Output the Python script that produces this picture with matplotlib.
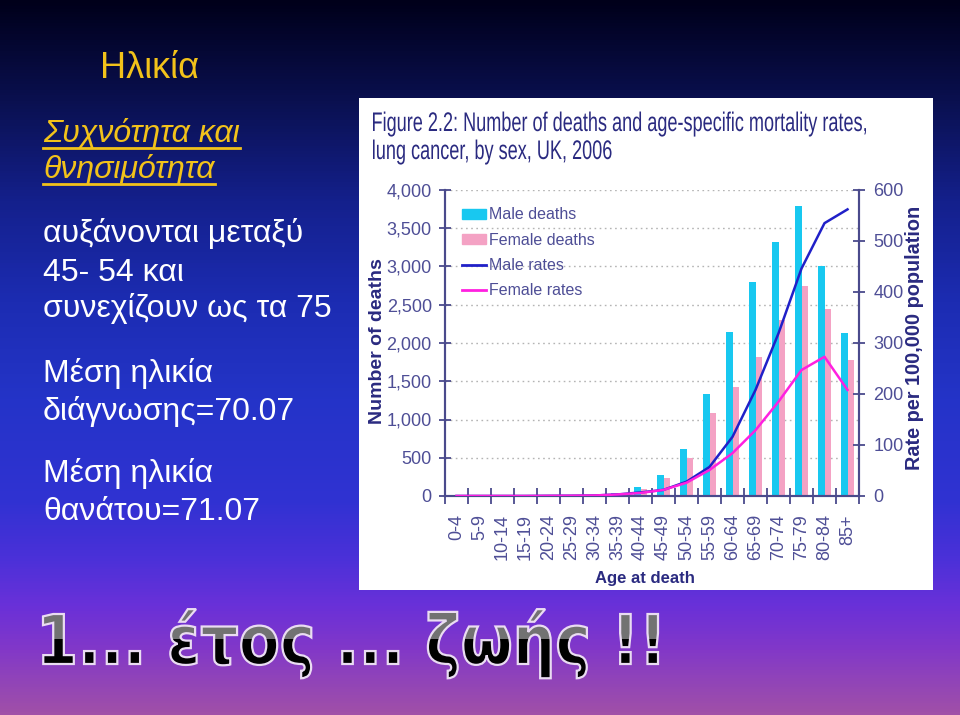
import numpy as np
import matplotlib
matplotlib.use("Agg")
import matplotlib.pyplot as plt
from matplotlib.colors import LinearSegmentedColormap
from matplotlib.patches import Rectangle, PathPatch, Patch
from matplotlib.lines import Line2D
from matplotlib.textpath import TextPath
from matplotlib.font_manager import FontProperties
from matplotlib.transforms import Affine2D
from matplotlib.ticker import FuncFormatter, FixedLocator

# données
ages = ['0-4', '5-9', '10-14', '15-19', '20-24', '25-29', '30-34', '35-39', '40-44',
        '45-49', '50-54', '55-59', '60-64', '65-69', '70-74', '75-79', '80-84', '85+']
male_deaths = [0, 0, 0, 1, 2, 4, 10, 38, 122, 275, 619, 1329, 2148, 2793, 3325, 3791, 3010, 2131]
female_deaths = [0, 0, 0, 1, 2, 4, 8, 30, 96, 240, 501, 1080, 1420, 1821, 2300, 2745, 2440, 1778]
male_rates = [0, 0, 0, 0, 0.3, 0.5, 1, 3, 7, 12, 28, 57, 116, 208, 319, 446, 535, 562]
female_rates = [0, 0, 0, 0, 0.3, 0.5, 1, 3, 6, 12, 26, 51, 84, 129, 185, 247, 273, 208]

left_ticks = [0, 500, 1000, 1500, 2000, 2500, 3000, 3500, 4000]
right_ticks = [0, 100, 200, 300, 400, 500, 600]

title_lines = ["Figure 2.2: Number of deaths and age-specific mortality rates,",
               "lung cancer, by sex, UK, 2006"]
slide_title = "Ηλικία"
sub_lines = ["Συχνότητα και", "θνησιμότητα"]
body_lines = [("αυξάνονται μεταξύ", 242), ("45- 54 και", 281), ("συνεχίζουν ως τα 75", 317),
              ("Μέση ηλικία", 382), ("διάγνωσης=70.07", 420),
              ("Μέση ηλικία", 482), ("θανάτου=71.07", 520)]
big_text = "1... έτος ... ζωής !!"

NAVY = '#2a2a80'
AXC = '#4a4a8c'
CYAN = '#18c8f0'
PINK = '#f4a2c4'
BLUE = '#2020c8'
MAGENTA = '#ff20e0'

arial = ['Liberation Sans', 'DejaVu Sans']


def squeezed_path(txt, family, weight, cap_px, x0, baseline, sx=None, width=None):
    # texte dessiné comme chemin, resserré horizontalement (police étroite absente)
    prop = FontProperties(family=family, weight=weight)
    tp = TextPath((0, 0), txt, size=100, prop=prop)
    cap = TextPath((0, 0), "H", size=100, prop=prop).get_extents().height
    sy = cap_px / cap
    ext = tp.get_extents()
    if sx is None:
        sx = width / ext.width
    tr = Affine2D().scale(sx, -sy).translate(x0 - ext.x0 * sx, baseline)
    return tr.transform_path(tp), sx


fig = plt.figure(figsize=(9.6, 7.15), dpi=100)

# fond en dégradé
bg = fig.add_axes([0, 0, 1, 1])
bg.set_xlim(0, 960)
bg.set_ylim(715, 0)
bg.axis('off')
cmap = LinearSegmentedColormap.from_list('slide', [
    (0.0, '#00001a'), (0.14, '#0a1050'), (0.28, '#14208c'), (0.42, '#1c2cb2'),
    (0.56, '#2434c8'), (0.70, '#3032d2'), (0.78, '#4a30d8'), (0.85, '#6a30d8'),
    (0.91, '#8238c8'), (1.0, '#a050a8')])
grad = np.linspace(0, 1, 715)[:, None]
bg.imshow(grad, extent=[0, 960, 715, 0], aspect='auto', cmap=cmap, zorder=0)
bg.add_patch(Rectangle((359, 98), 574, 492, facecolor='white', edgecolor='none', zorder=1))

# textes de gauche
bg.text(100, 78, slide_title, color='#f2c21a', fontsize=26, family=arial, va='baseline', zorder=3)
fig.canvas.draw()
r = fig.canvas.get_renderer()
for txt, yb in zip(sub_lines, [142, 178]):
    t = bg.text(43, yb, txt, color='#f2c21a', fontsize=23, style='italic', family=arial,
                va='baseline', zorder=3)
    w = t.get_window_extent(r).width
    bg.plot([43, 43 + w], [yb + 6, yb + 6], color='#f2c21a', lw=2, zorder=3)
for txt, yb in body_lines:
    bg.text(43, yb, txt, color='white', fontsize=23, family=arial, va='baseline', zorder=3)

# grand texte du bas
path, _ = squeezed_path(big_text, 'DejaVu Sans', 'bold', 50, 43, 664, width=658 - 43)
bg.add_patch(PathPatch(path, facecolor='black', edgecolor='none', zorder=3))
gloss = PathPatch(path, facecolor='#727272', edgecolor='none', zorder=4)
bg.add_patch(gloss)
clip = Rectangle((0, 595), 960, 44, transform=bg.transData, visible=False)
bg.add_patch(clip)
gloss.set_clip_path(clip)
bg.add_patch(PathPatch(path, facecolor='none', edgecolor='#eadcf2', lw=1.6, zorder=5))

# titre du graphique (resserré)
p1, sxt = squeezed_path(title_lines[0], 'Liberation Sans', 'normal', 18.5, 373, 131,
                        width=866 - 373)
p2, _ = squeezed_path(title_lines[1], 'Liberation Sans', 'normal', 18.5, 373, 159, sx=sxt)
for p in (p1, p2):
    bg.add_patch(PathPatch(p, facecolor=NAVY, edgecolor='none', zorder=3))

# graphique
ax = fig.add_axes([445 / 960, 1 - 496 / 715, 414 / 960, 306 / 715])
ax.set_facecolor('none')
x = np.arange(len(ages))
bw = 0.27
ax.bar(x - bw / 2, male_deaths, width=bw, color=CYAN, zorder=2)
ax.bar(x + bw / 2, female_deaths, width=bw, color=PINK, zorder=2)
ax.set_xlim(-0.5, len(ages) - 0.5)
ax.set_ylim(0, 4000)
ax.set_yticks(left_ticks)
ax.yaxis.set_major_formatter(FuncFormatter(lambda v, p: f"{int(v):,}"))
for v in left_ticks[1:]:
    ax.axhline(v, color='#b4b4b4', lw=1, ls=(0, (1.2, 2.5)), zorder=1)

ax.xaxis.set_major_locator(FixedLocator(np.arange(-0.5, len(ages), 1.0)))
ax.xaxis.set_major_formatter(FuncFormatter(lambda v, p: ''))
ax.xaxis.set_minor_locator(FixedLocator(x))
ax.set_xticklabels(ages, minor=True, rotation=90)
ax.tick_params(axis='x', which='major', direction='inout', length=11, width=1.3, color=AXC)
ax.tick_params(axis='x', which='minor', length=0, pad=13, labelsize=13, labelcolor='#4e4e96')
ax.tick_params(axis='y', direction='inout', length=9, width=1.3, color=AXC, pad=5,
               labelsize=13, labelcolor='#4e4e96')
for lab in ax.get_xticklabels(minor=True) + ax.get_yticklabels():
    lab.set_family(arial)

ax2 = ax.twinx()
ax2.plot(x, male_rates, color=BLUE, lw=1.8, zorder=3)
ax2.plot(x, female_rates, color=MAGENTA, lw=1.8, zorder=3)
ax2.set_ylim(0, 600)
ax2.set_yticks(right_ticks)
ax2.tick_params(axis='y', direction='inout', length=9, width=1.3, color=AXC, pad=6,
                labelsize=13, labelcolor='#4e4e96')
for lab in ax2.get_yticklabels():
    lab.set_family(arial)

for a in (ax, ax2):
    a.spines['top'].set_visible(False)
    for s in ('left', 'right', 'bottom'):
        a.spines[s].set_color(AXC)
        a.spines[s].set_linewidth(1.5)

handles = [Patch(color=CYAN), Patch(color=PINK),
           Line2D([], [], color=BLUE, lw=2), Line2D([], [], color=MAGENTA, lw=2)]
labels = ['Male deaths', 'Female deaths', 'Male rates', 'Female rates']
leg = ax2.legend(handles, labels, loc='upper left', bbox_to_anchor=(0.006, 0.99),
                 frameon=False, handlelength=1.5, handleheight=0.6, handletextpad=0.2,
                 labelspacing=0.64, prop={'family': arial, 'size': 11.5})
for t in leg.get_texts():
    t.set_color('#4e4e96')

fig.text(377 / 960, 1 - 341 / 715, 'Number of deaths', rotation=90, ha='center', va='center',
         color=NAVY, fontsize=14, fontweight='bold', family=arial)
fig.text(915 / 960, 1 - 338 / 715, 'Rate per 100,000 population', rotation=90, ha='center',
         va='center', color=NAVY, fontsize=14.3, fontweight='bold', family=arial)
fig.text(645 / 960, 1 - 579 / 715, 'Age at death', ha='center', va='center',
         color=NAVY, fontsize=12, fontweight='bold', family=arial)

fig.savefig('out.png', dpi=100)
